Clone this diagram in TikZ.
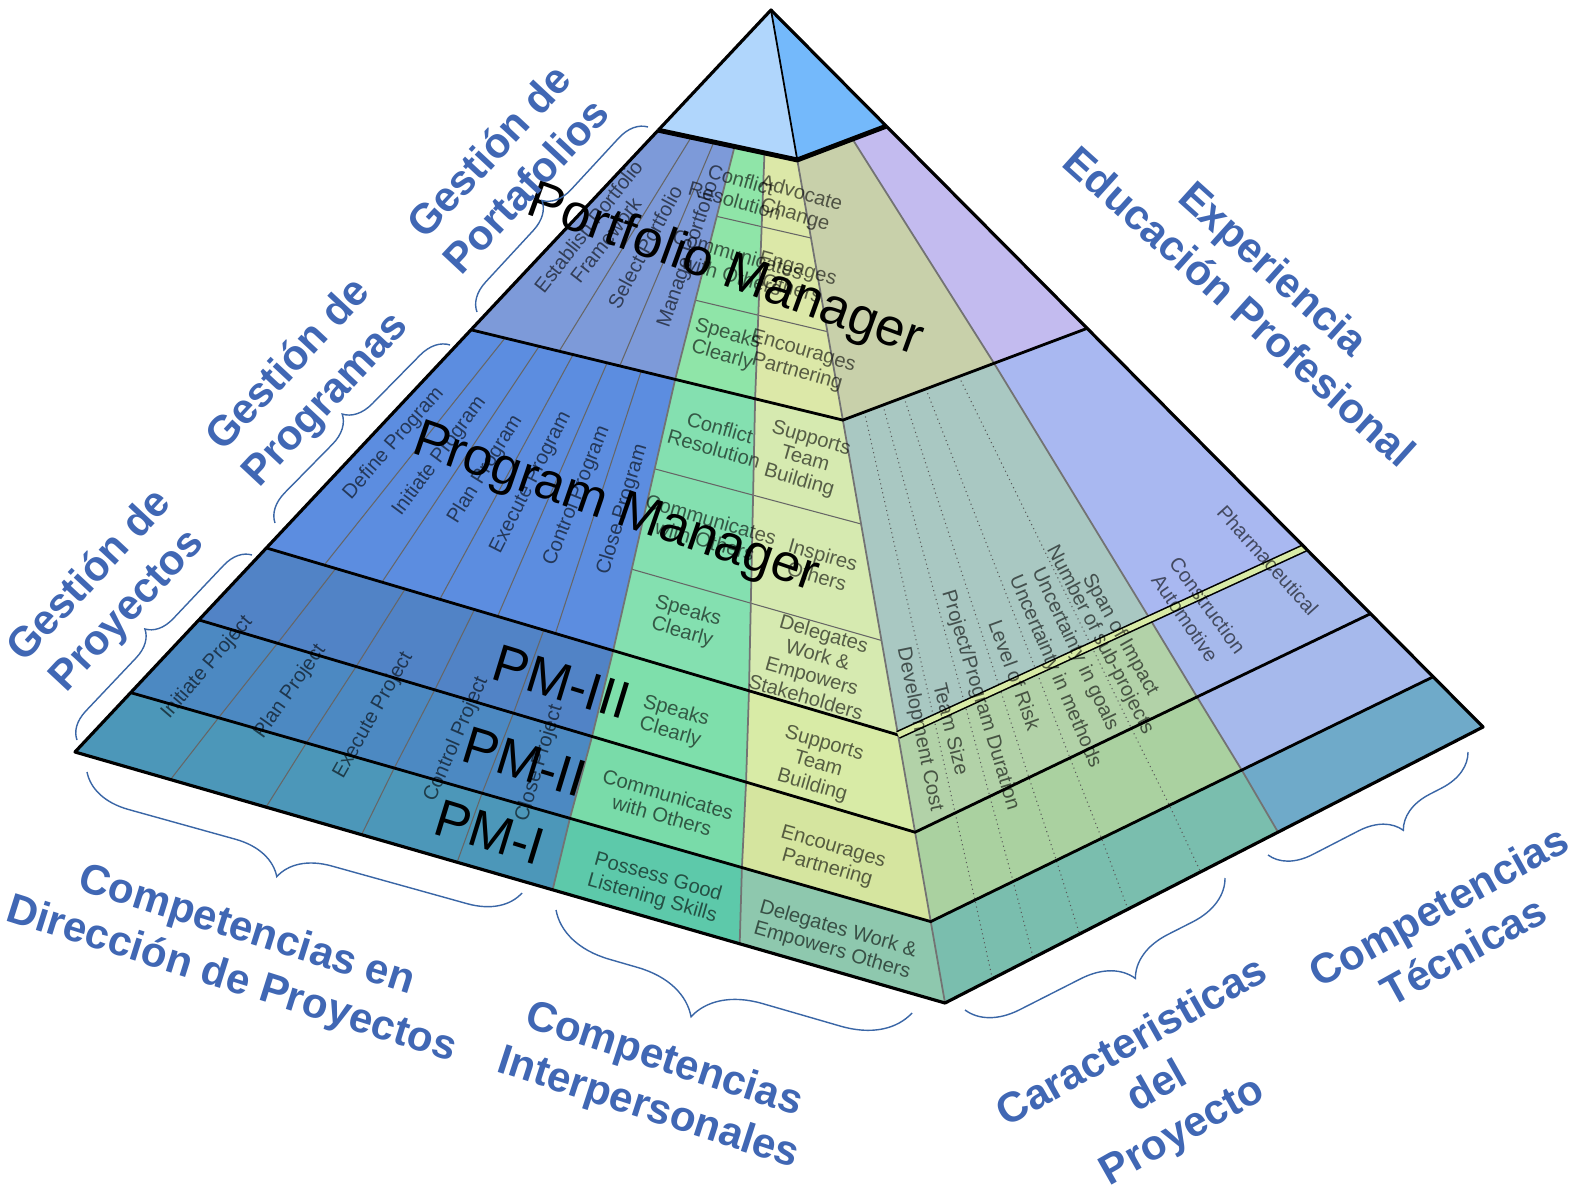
\documentclass[tikz,border=0pt]{standalone}
\usepackage{fontspec}
\setmainfont{Liberation Sans}
\usepackage{xcolor}
\usepackage{tikz}
\usetikzlibrary{calc,decorations.pathreplacing}

\definecolor{capleft}{HTML}{B0D6FC}
\definecolor{capright}{HTML}{74B9FB}
\definecolor{labelblue}{HTML}{4067B4}
\definecolor{bracecol}{HTML}{3A66A6}
% portfolio band
\definecolor{bluepf}{HTML}{7D9AD9}
\definecolor{greenpf}{HTML}{8FE5A8}
\definecolor{yellowpf}{HTML}{DCE8A8}
\definecolor{olivepf}{HTML}{C8D0AA}
\definecolor{violetpf}{HTML}{C3BBEF}
% program band
\definecolor{bluepg}{HTML}{5C8DE0}
\definecolor{greenpg}{HTML}{84E0B0}
\definecolor{yellowpg}{HTML}{D6EAB0}
\definecolor{olivepg}{HTML}{A9C8C2}
\definecolor{violetpg}{HTML}{A9B8F1}
% PM-III band
\definecolor{bluepc}{HTML}{5183C6}
\definecolor{greenpc}{HTML}{7EDFAB}
\definecolor{yellowpc}{HTML}{D8EBA6}
\definecolor{olivepc}{HTML}{B2D2A8}
\definecolor{violetpc}{HTML}{A6B9EC}
% PM-II band
\definecolor{bluepb}{HTML}{4C89C2}
\definecolor{greenpb}{HTML}{79DBA9}
\definecolor{yellowpb}{HTML}{D5E59F}
\definecolor{olivepb}{HTML}{AAD1A0}
\definecolor{violetpb}{HTML}{A6B9EC}
% PM-I band
\definecolor{bluepa}{HTML}{4C97B9}
\definecolor{greenpa}{HTML}{5DC9AA}
\definecolor{yellowpa}{HTML}{8EC8AE}
\definecolor{olivepa}{HTML}{7ABEAE}
\definecolor{violetpa}{HTML}{6FAAC9}

\begin{document}
\begin{tikzpicture}[x=0.02cm,y=-0.02cm,
  edgeline/.style={line width=1.8pt,black,line join=round},
  capline/.style={line width=2.8pt,black,line join=round},
  bandline/.style={line width=1.6pt,black},
  colline/.style={line width=1pt,black!55},
  sepline/.style={line width=0.6pt,black!60},
  dotline/.style={line width=0.6pt,black!65,dotted},
  celltext/.style={font=\fontsize{11.5}{12.5}\selectfont,text=black,text opacity=0.6,align=center},
  raytext/.style={celltext,sloped},
  bigtext/.style={font=\fontsize{30}{32}\selectfont},
  bluelabel/.style={font=\fontsize{24}{29}\selectfont\bfseries,text=labelblue,align=center},
  curly/.style 2 args={draw=bracecol,line width=0.8pt,decorate,
    decoration={brace,amplitude=#1,aspect=#2}}]
\tikzstyle{every node}+=[inner sep=0pt]
\fill[white] (0,0) rectangle (1577,1192);
\useasboundingbox (0,0) rectangle (1577,1192);

% corners of the pyramid
\coordinate (A) at (771,10);
\coordinate (L) at (75,752);
\coordinate (F) at (945,1003);
\coordinate (R) at (1483,727);
\foreach \i/\tl/\tf/\tr in {0/0.162/0.151/0.162,1/0.431/0.413/0.444,2/0.725/0.730/0.750,
    3/0.822/0.828/0.842,4/0.920/0.918/0.930,5/1/1/1}{
  \coordinate (L\i) at ($(A)!\tl!(L)$);
  \coordinate (F\i) at ($(A)!\tf!(F)$);
  \coordinate (R\i) at ($(A)!\tr!(R)$);
}

% cells, band by band
\foreach \k/\n/\cb/\cg/\cy/\co/\cv in {0/1/bluepf/greenpf/yellowpf/olivepf/violetpf,
    1/2/bluepg/greenpg/yellowpg/olivepg/violetpg,2/3/bluepc/greenpc/yellowpc/olivepc/violetpc,
    3/4/bluepb/greenpb/yellowpb/olivepb/violetpb,4/5/bluepa/greenpa/yellowpa/olivepa/violetpa}{
  \path[fill=\cb] (L\k) -- ($(L\k)!0.549!(F\k)$) -- ($(L\n)!0.549!(F\n)$) -- (L\n) -- cycle;
  \path[fill=\cg] ($(L\k)!0.549!(F\k)$) -- ($(L\k)!0.764!(F\k)$) -- ($(L\n)!0.764!(F\n)$) -- ($(L\n)!0.549!(F\n)$) -- cycle;
  \path[fill=\cy] ($(L\k)!0.764!(F\k)$) -- (F\k) -- (F\n) -- ($(L\n)!0.764!(F\n)$) -- cycle;
  \path[fill=\co] (F\k) -- ($(F\k)!0.619!(R\k)$) -- ($(F\n)!0.619!(R\n)$) -- (F\n) -- cycle;
  \path[fill=\cv] ($(F\k)!0.619!(R\k)$) -- (R\k) -- (R\n) -- ($(F\n)!0.619!(R\n)$) -- cycle;
}

% thin dividers in the project management column
\foreach \u in {0.237,0.40}
  \draw[sepline] ($(L0)!\u!(F0)$) -- ($(L1)!\u!(F1)$);
\foreach \i [evaluate=\i as \u using \i*0.0915] in {1,...,5}
  \draw[sepline] ($(L1)!\u!(F1)$) -- ($(L2)!\u!(F2)$);
\foreach \i [evaluate=\i as \u using \i*0.1098] in {1,...,4}
  \draw[sepline] ($(L2)!\u!(F2)$) -- ($(L3)!\u!(F3)$) -- ($(L4)!\u!(F4)$) -- ($(L5)!\u!(F5)$);
% dividers in the interpersonal columns
\foreach \k/\n/\f in {0/1/0.3,0/1/0.66,1/2/0.33,1/2/0.7}{
  \coordinate (sl) at ($(L\k)!\f!(L\n)$);
  \coordinate (sf) at ($(F\k)!\f!(F\n)$);
  \draw[sepline] ($(sl)!0.549!(sf)$) -- (sf);
}
% dotted dividers of the project characteristics
\foreach \u in {0.088,0.164,0.25,0.34,0.475}
  \draw[dotline] ($(F1)!\u!(R1)$) -- ($(F2)!\u!(R2)$) -- ($(F3)!\u!(R3)$) -- ($(F4)!\u!(R4)$) -- ($(F5)!\u!(R5)$);

% column boundaries
\foreach \u in {0.549,0.764}
  \draw[colline] ($(L0)!\u!(F0)$) -- ($(L1)!\u!(F1)$) -- ($(L2)!\u!(F2)$) -- ($(L3)!\u!(F3)$) -- ($(L4)!\u!(F4)$) -- ($(L5)!\u!(F5)$);
\draw[colline] ($(F0)!0.619!(R0)$) -- ($(F1)!0.619!(R1)$) -- ($(F2)!0.619!(R2)$) -- ($(F3)!0.619!(R3)$) -- ($(F4)!0.619!(R4)$) -- ($(F5)!0.619!(R5)$);
\draw[colline] (F0) -- (F5);

% band lines and outline
\foreach \k in {1,...,4}
  \draw[bandline] (L\k) -- (F\k) -- (R\k);
\draw[line width=0.9pt,double=yellowpc,double distance=3pt] (F2) -- (R2);
\draw[edgeline] (L0) -- (L) -- (F) -- (R) -- (R0);
\fill[capleft] (A) -- (L0) -- (F0) -- cycle;
\fill[capright] (A) -- (F0) -- (R0) -- cycle;
\draw[edgeline] (L0) -- (A) -- (R0);
\draw[line width=1pt] (A) -- (F0);
\draw[capline] (L0) -- (F0) -- (R0);

% project management texts
\path (A) -- ($(L)!0.11!(F)$) node[raytext,pos=0.29] (estp) {Establish Portfolio\\Framework};
\path (A) -- ($(L)!0.30!(F)$) node[raytext,pos=0.29] (selp) {Select Portfolio};
\path (A) -- ($(L)!0.467!(F)$) node[raytext,pos=0.285] (manp) {Manage Portfolio};
\foreach \i/\w in {1/Define,2/Initiate,3/Plan,4/Execute,5/Control,6/Close}{
  \pgfmathsetmacro\u{(\i-0.5)*0.0915}
  \path (A) -- ($(L)!\u!(F)$) node[raytext,pos=0.575] (prog\i) {\w\ Program};
}
\foreach \i/\w in {1/Initiate,2/Plan,3/Execute,4/Control,5/Close}{
  \pgfmathsetmacro\u{(\i-0.5)*0.1098}
  \path (A) -- ($(L)!\u!(F)$) node[raytext,pos=0.87] (proj\i) {\w\ Project};
}

% interpersonal texts
\node[celltext,rotate=-16] (cr1) at (738,190) {Conflict\\Resolution};
\node[celltext,rotate=-16] (co1) at (735,265) {Communicates\\with Others};
\node[celltext,rotate=-16] (sc1) at (725,345) {Speaks\\Clearly};
\node[celltext,rotate=-16] (ac1) at (798,205) {Advocate\\Change};
\node[celltext,rotate=-16] (eo1) at (795,278) {Engages\\Others};
\node[celltext,rotate=-16] (ep1) at (800,362) {Encourages\\Partnering};
\node[celltext,rotate=-16] (cr2) at (717,438) {Conflict\\Resolution};
\node[celltext,rotate=-16] (co2) at (708,530) {Communicates\\with Others};
\node[celltext,rotate=-16] (sc2) at (685,622) {Speaks\\Clearly};
\node[celltext,rotate=-16] (st2) at (805,460) {Supports\\Team\\Building};
\node[celltext,rotate=-16] (io2) at (820,565) {Inspires\\Others};
\node[celltext,rotate=-16] (dw2) at (815,665) {Delegates\\Work \&\\Empowers\\Stakeholders};
\node[celltext,rotate=-16] (sc3) at (673,722) {Speaks\\Clearly};
\node[celltext,rotate=-16] (st3) at (818,765) {Supports\\Team\\Building};
\node[celltext,rotate=-16] (co4) at (665,805) {Communicates\\with Others};
\node[celltext,rotate=-16] (ep4) at (830,858) {Encourages\\Partnering};
\node[celltext,rotate=-16] (pl5) at (655,888) {Possess Good\\Listening Skills};
\node[celltext,rotate=-16] (dw5) at (835,940) {Delegates Work \&\\Empowers Others};

% project characteristics and technical texts
\path (A) -- ($(F)!0.052!(R)$) node[raytext,pos=0.735] (devc) {Development Cost};
\path (A) -- ($(F)!0.124!(R)$) node[raytext,pos=0.75] (tsize) {Team Size};
\path (A) -- ($(F)!0.204!(R)$) node[raytext,pos=0.737] (pdur) {Project/Program Duration};
\path (A) -- ($(F)!0.297!(R)$) node[raytext,pos=0.73] (risk) {Level of Risk};
\path (A) -- ($(F)!0.384!(R)$) node[raytext,pos=0.746] (umeth) {Uncertainty in methods};
\path (A) -- ($(F)!0.445!(R)$) node[raytext,pos=0.735] (ugoal) {Uncertainty in goals};
\path (A) -- ($(F)!0.505!(R)$) node[raytext,pos=0.738] (nsub) {Number of sub-projects};
\path (A) -- ($(F)!0.55!(R)$) node[raytext,pos=0.743] (span) {Span of Impact};
\path (A) -- ($(F)!0.918!(R)$) node[raytext,pos=0.744] (pharm) {Pharmaceutical};
\path (A) -- ($(F)!0.749!(R)$) node[raytext,pos=0.757] (constr) {Construction};
\path (A) -- ($(F)!0.692!(R)$) node[raytext,pos=0.758] (auto) {Automotive};

% level names
\node[bigtext,rotate=-20] (pfm) at (725,272) {Portfolio Manager};
\node[bigtext,rotate=-19] (pgm) at (615,510) {Program Manager};
\node[bigtext,rotate=-17] (pm3) at (562,682) {PM-III};
\node[bigtext,rotate=-17] (pm2) at (525,762) {PM-II};
\node[bigtext,rotate=-17] (pm1) at (490,832) {PM-I};

% braces
\draw[curly={0.56cm}{0.5}] (477,312) -- (648,127);
\draw[curly={0.57cm}{0.5}] (275,523) -- (450,345);
\draw[curly={0.54cm}{0.5}] (77,740) -- (252,555);
\draw[curly={1cm}{0.533}] (522,893) -- (87,772);
\draw[curly={1.3cm}{0.57}] (912,1013) -- (556,910);
\draw[curly={0.98cm}{0.43}] (1225,878) -- (965,1010);
\draw[curly={0.8cm}{0.415}] (1468,752) -- (1268,855);

% labels
\node[bluelabel,rotate=47] (lblpf) at (507,168) {Gestión de\\Portafolios};
\node[bluelabel,rotate=47] (lblpg) at (308,383) {Gestión de\\Programas};
\node[bluelabel,rotate=47] (lblpm) at (109,594) {Gestión de\\Proyectos};
\node[bluelabel,rotate=-42] (lblexp) at (1257,287) {Experiencia\\Educación Profesional};
\node[bluelabel,rotate=-17.5] (lbldir) at (239,956) {Competencias en\\Dirección de Proyectos};
\node[bluelabel,rotate=-18] (lblint) at (656,1085) {Competencias\\Interpersonales};
\node[bluelabel,rotate=29.5] (lblcar) at (1158,1088) {Caracteristicas\\del\\Proyecto};
\node[bluelabel,rotate=29] (lbltec) at (1451,928) {Competencias\\Técnicas};
\end{tikzpicture}
\end{document}
